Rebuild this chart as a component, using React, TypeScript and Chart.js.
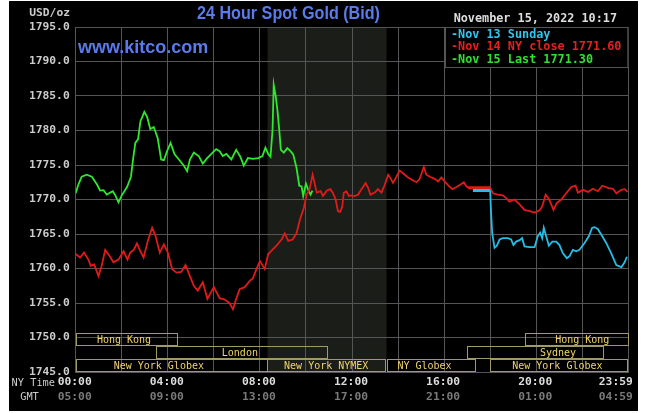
import { useEffect, useRef } from "react"
import { Chart, registerables } from "chart.js"

Chart.register(...registerables)

// hours after midnight NY time -> USD/oz
const nov15Times = [0, 0.12, 0.26, 0.48, 0.7, 0.92, 1.06, 1.21, 1.35, 1.5, 1.61, 1.72, 1.86, 2.0, 2.23, 2.4, 2.49, 2.59, 2.71, 2.81, 2.98, 3.1, 3.24, 3.39, 3.56, 3.71, 3.83, 3.97, 4.12, 4.29, 4.48, 4.7, 4.84, 4.96, 5.13, 5.35, 5.52, 5.71, 5.86, 6.1, 6.25, 6.39, 6.54, 6.76, 6.97, 7.15, 7.3, 7.48, 7.7, 7.92, 8.11, 8.24, 8.36, 8.46, 8.55, 8.6, 8.69, 8.76, 8.84, 8.91, 9.04, 9.19, 9.33, 9.45, 9.59, 9.71, 9.81, 9.88, 10.0, 10.1, 10.2, 10.28]
const nov15Values = [1770.9, 1772.2, 1773.3, 1773.6, 1773.3, 1772.2, 1771.3, 1771.35, 1770.7, 1771.0, 1771.2, 1770.6, 1769.6, 1770.6, 1771.8, 1773.3, 1775.8, 1778.2, 1778.75, 1781.3, 1782.7, 1782.0, 1780.2, 1780.5, 1778.9, 1775.8, 1775.7, 1777.0, 1778.2, 1776.6, 1775.8, 1774.9, 1774.1, 1775.8, 1776.8, 1776.25, 1775.2, 1776.0, 1776.5, 1777.3, 1777.0, 1776.3, 1776.6, 1775.8, 1777.2, 1776.2, 1774.9, 1776.0, 1775.9, 1776.0, 1776.3, 1777.5, 1776.6, 1776.2, 1780.1, 1786.6, 1784.9, 1783.0, 1780.1, 1777.2, 1776.8, 1777.45, 1777.0, 1776.5, 1774.6, 1772.0, 1771.9, 1770.5, 1772.3, 1771.4, 1770.7, 1771.3]

const nov14Times = [0, 0.19, 0.36, 0.55, 0.65, 0.8, 0.99, 1.13, 1.28, 1.47, 1.64, 1.86, 2.08, 2.25, 2.37, 2.52, 2.66, 2.81, 2.95, 3.13, 3.32, 3.46, 3.65, 3.83, 4.0, 4.19, 4.38, 4.58, 4.77, 4.96, 5.13, 5.3, 5.52, 5.72, 6.0, 6.25, 6.47, 6.68, 6.83, 6.97, 7.12, 7.34, 7.56, 7.7, 7.85, 8.0, 8.21, 8.36, 8.5, 8.72, 8.94, 9.08, 9.23, 9.42, 9.59, 9.74, 9.91, 10.03, 10.15, 10.29, 10.47, 10.64, 10.74, 10.91, 11.06, 11.17, 11.29, 11.39, 11.49, 11.58, 11.64, 11.75, 11.87, 11.97, 12.12, 12.26, 12.41, 12.59, 12.7, 12.8, 12.99, 13.13, 13.28, 13.42, 13.57, 13.67, 13.78, 13.93, 14.07, 14.22, 14.39, 14.58, 14.8, 14.94, 15.12, 15.23, 15.38, 15.59, 15.74, 15.88, 16.03, 16.22, 16.36, 16.54, 16.68, 16.86, 16.97, 17.04, 18.0, 18.12, 18.33, 18.55, 18.7, 18.84, 19.06, 19.28, 19.49, 19.71, 19.93, 20.14, 20.26, 20.41, 20.55, 20.75, 20.9, 21.09, 21.3, 21.52, 21.71, 21.81, 22.03, 22.25, 22.46, 22.68, 22.87, 23.12, 23.33, 23.48, 23.7, 23.84, 23.97]
const nov14Values = [1762.1, 1761.6, 1762.3, 1761.3, 1760.4, 1760.6, 1758.9, 1760.4, 1762.7, 1761.8, 1760.9, 1761.3, 1762.5, 1761.3, 1762.3, 1762.7, 1763.65, 1762.5, 1761.6, 1764.0, 1765.9, 1764.8, 1762.3, 1763.5, 1762.3, 1759.9, 1759.4, 1759.5, 1760.5, 1758.9, 1757.5, 1756.8, 1758.0, 1755.6, 1757.3, 1755.7, 1755.5, 1755.0, 1754.1, 1755.6, 1757.0, 1757.3, 1758.2, 1758.6, 1759.9, 1761.1, 1759.9, 1762.1, 1762.55, 1763.3, 1764.2, 1765.1, 1764.0, 1764.2, 1765.1, 1767.1, 1768.8, 1770.7, 1771.4, 1773.6, 1771.0, 1771.2, 1770.5, 1771.3, 1771.5, 1770.95, 1770.0, 1768.3, 1768.2, 1769.0, 1770.95, 1771.2, 1770.5, 1770.6, 1770.5, 1770.7, 1771.5, 1772.4, 1771.7, 1770.7, 1771.0, 1771.5, 1771.0, 1772.1, 1773.6, 1773.1, 1772.4, 1773.3, 1774.2, 1773.8, 1773.3, 1772.9, 1772.5, 1773.0, 1774.7, 1773.6, 1773.3, 1773.0, 1772.6, 1773.2, 1772.6, 1771.9, 1771.5, 1771.8, 1772.1, 1772.5, 1771.9, 1771.7, 1771.7, 1770.9, 1770.7, 1770.6, 1770.2, 1769.7, 1770.0, 1769.3, 1768.5, 1768.3, 1768.1, 1768.4, 1769.0, 1770.7, 1770.1, 1768.5, 1769.5, 1770.0, 1770.9, 1771.8, 1772.0, 1771.0, 1771.4, 1771.1, 1771.55, 1771.2, 1772.0, 1771.7, 1771.55, 1770.9, 1771.4, 1771.5, 1771.1]

const nov13Times = [17.25, 18.0, 18.04, 18.09, 18.19, 18.29, 18.41, 18.55, 18.77, 18.91, 19.01, 19.13, 19.28, 19.39, 19.49, 19.71, 19.93, 20.07, 20.17, 20.26, 20.33, 20.43, 20.55, 20.7, 20.87, 21.01, 21.16, 21.33, 21.45, 21.59, 21.74, 21.88, 22.1, 22.29, 22.43, 22.54, 22.68, 22.83, 23.04, 23.26, 23.48, 23.7, 23.84, 23.94]
const nov13Values = [1771.3, 1771.3, 1768.1, 1765.1, 1763.0, 1763.3, 1764.2, 1764.4, 1764.4, 1764.2, 1763.4, 1763.9, 1764.1, 1764.4, 1763.2, 1763.1, 1763.1, 1764.7, 1765.2, 1764.4, 1765.9, 1764.7, 1763.3, 1763.9, 1763.9, 1763.4, 1762.2, 1761.5, 1761.8, 1762.7, 1762.5, 1762.7, 1763.7, 1764.7, 1765.9, 1766.0, 1765.7, 1764.9, 1763.7, 1762.2, 1760.5, 1760.2, 1760.9, 1761.7]

const legendLabels = ["-Nov 13 Sunday", "-Nov 14 NY close 1771.60", "-Nov 15 Last 1771.30"]
const legendColors = ["#33c4ec", "#e42020", "#30e030"]

const tickHours = [0, 4, 8, 12, 16, 20, 23.5]
const nyTimeLabels = ["00:00", "04:00", "08:00", "12:00", "16:00", "20:00", "23:59"]
const gmtLabels = ["05:00", "09:00", "13:00", "17:00", "21:00", "01:00", "04:59"]

const sessionNames = ["Hong Kong", "London", "New York Globex", "New York NYMEX", "NY Globex", "Sydney", "New York Globex", "Hong Kong"]
const sessionStarts = [0, 3.5, 0, 8.33, 13.5, 17.0, 18.0, 19.5]
const sessionEnds = [4.45, 10.95, 8.33, 13.5, 17.35, 22.97, 24, 24]
const sessionRows = [0, 1, 2, 2, 2, 1, 2, 0]
const sessionLabelAt = [2.1, 7.13, 3.61, 10.88, 15.15, 20.95, 20.92, 22.0]

const nymexStart = 8.33
const nymexEnd = 13.5

const MONO = "'DejaVu Sans Mono', monospace"
const BLUE = "#5b7bea"

const overlay = {
  id: "kitcoOverlay",
  beforeDraw(chart: any) {
    const { ctx, chartArea: a, scales } = chart
    const x0 = scales.x.getPixelForValue(nymexStart)
    const x1 = scales.x.getPixelForValue(nymexEnd)
    ctx.save()
    ctx.fillStyle = "#1b1d19"
    ctx.fillRect(x0, a.top, x1 - x0, a.bottom - a.top)
    ctx.restore()
  },
  afterDatasetsDraw(chart: any) {
    const { ctx, chartArea: a, scales } = chart
    const xs = scales.x
    ctx.save()

    // trading sessions along the bottom
    const rowH = 13
    ctx.font = `10px ${MONO}`
    ctx.textAlign = "center"
    ctx.textBaseline = "middle"
    sessionNames.forEach((name, i) => {
      const l = xs.getPixelForValue(sessionStarts[i])
      const r = xs.getPixelForValue(sessionEnds[i])
      const top = a.bottom - rowH * (3 - sessionRows[i])
      ctx.strokeStyle = "#a09a66"
      ctx.lineWidth = 1
      ctx.strokeRect(Math.round(l) + 0.5, Math.round(top) + 0.5, Math.round(r - l) - 1, rowH - 1)
      ctx.fillStyle = "#f0d468"
      ctx.fillText(name, xs.getPixelForValue(sessionLabelAt[i]), top + rowH / 2 + 1)
    })

    // legend box
    const lx = 436
    const ly = a.top
    ctx.fillStyle = "#000"
    ctx.fillRect(lx, ly, a.right - lx, 40)
    ctx.strokeStyle = "#555"
    ctx.strokeRect(lx + 0.5, ly + 0.5, a.right - lx - 1, 40)
    ctx.font = `bold 11.8px ${MONO}`
    ctx.textAlign = "left"
    legendLabels.forEach((t, i) => {
      ctx.fillStyle = legendColors[i]
      ctx.fillText(t, 442, ly + 7.5 + i * 12.5)
    })

    ctx.fillStyle = "#dddddd"
    ctx.textAlign = "right"
    ctx.fillText("November 15, 2022 10:17", 608, 18)

    // units
    ctx.font = `bold 11.3px ${MONO}`
    ctx.fillStyle = "#cccccc"
    ctx.fillText("USD/oz", 61, 12)

    // time axis labels
    ctx.textAlign = "center"
    tickHours.forEach((h, i) => {
      const px = xs.getPixelForValue(h) - 1
      ctx.fillStyle = "#dddddd"
      ctx.fillText(nyTimeLabels[i], px, 381.5)
      ctx.fillStyle = "#7a7a7a"
      ctx.fillText(gmtLabels[i], px, 396)
    })
    ctx.font = `10.3px ${MONO}`
    ctx.textAlign = "right"
    ctx.fillStyle = "#cccccc"
    ctx.fillText("NY Time", 46, 382)
    ctx.textAlign = "center"
    ctx.fillText("GMT", 20.5, 396)

    // titles
    ctx.fillStyle = BLUE
    ctx.font = "bold 18px 'Liberation Sans', Arial, sans-serif"
    ctx.textAlign = "left"
    ctx.fillText("www.kitco.com", 69, 47)
    const title = "24 Hour Spot Gold (Bid)"
    const w = ctx.measureText(title).width
    ctx.translate(188, 13)
    ctx.scale(183 / w, 1)
    ctx.fillText(title, 0, 0)

    ctx.restore()
  },
}

const points = (t: number[], v: number[]) => t.map((x, i) => ({ x, y: v[i] }))

const flatWidth = (ctx: any) =>
  ctx.p1.parsed.x - ctx.p0.parsed.x > 0.5 && ctx.p0.parsed.y === ctx.p1.parsed.y ? 3 : undefined

export default function App() {
  const canvasRef = useRef<HTMLCanvasElement>(null)
  const chartRef = useRef<Chart | null>(null)

  useEffect(() => {
    if (!canvasRef.current) return
    if (chartRef.current) chartRef.current.destroy()

    chartRef.current = new Chart(canvasRef.current, {
      type: "line",
      data: {
        datasets: [
          {
            label: "Nov 13 Sunday",
            data: points(nov13Times, nov13Values),
            borderColor: "#25bde6",
            borderWidth: 1.8,
            pointRadius: 0,
            segment: { borderWidth: flatWidth },
          },
          {
            label: "Nov 14 NY close",
            data: points(nov14Times, nov14Values),
            borderColor: "#e01a1a",
            borderWidth: 1.8,
            pointRadius: 0,
            segment: { borderWidth: flatWidth },
          },
          {
            label: "Nov 15 Last",
            data: points(nov15Times, nov15Values),
            borderColor: "#2ee82e",
            borderWidth: 1.8,
            pointRadius: 0,
          },
        ],
      },
      options: {
        responsive: false,
        animation: false,
        devicePixelRatio: 1,
        layout: { padding: { left: 0, top: 26, right: 9.7, bottom: 39 } },
        plugins: { legend: { display: false }, tooltip: { enabled: false } },
        scales: {
          x: {
            type: "linear",
            min: 0,
            max: 24,
            ticks: { display: false, stepSize: 2 },
            grid: { color: "#555", drawTicks: false },
            border: { color: "#555" },
            afterFit: (s: any) => {
              s.height = 0
            },
          },
          y: {
            min: 1745,
            max: 1795,
            ticks: {
              stepSize: 5,
              padding: 6,
              color: "#cccccc",
              font: { family: MONO, size: 11.3, weight: "bold" },
              callback: (v: any) => Number(v).toFixed(1),
            },
            grid: { color: "#555", drawTicks: false },
            border: { color: "#555" },
            afterFit: (s: any) => {
              s.width = 66.7
            },
          },
        },
      },
      plugins: [overlay],
    } as any)

    return () => {
      if (chartRef.current) chartRef.current.destroy()
      chartRef.current = null
    }
  }, [])

  return (
    <div style={{ position: "absolute", left: 9, top: 1, width: 629, height: 410, background: "#000" }}>
      <canvas ref={canvasRef} width={629} height={410} style={{ display: "block" }} />
    </div>
  )
}
